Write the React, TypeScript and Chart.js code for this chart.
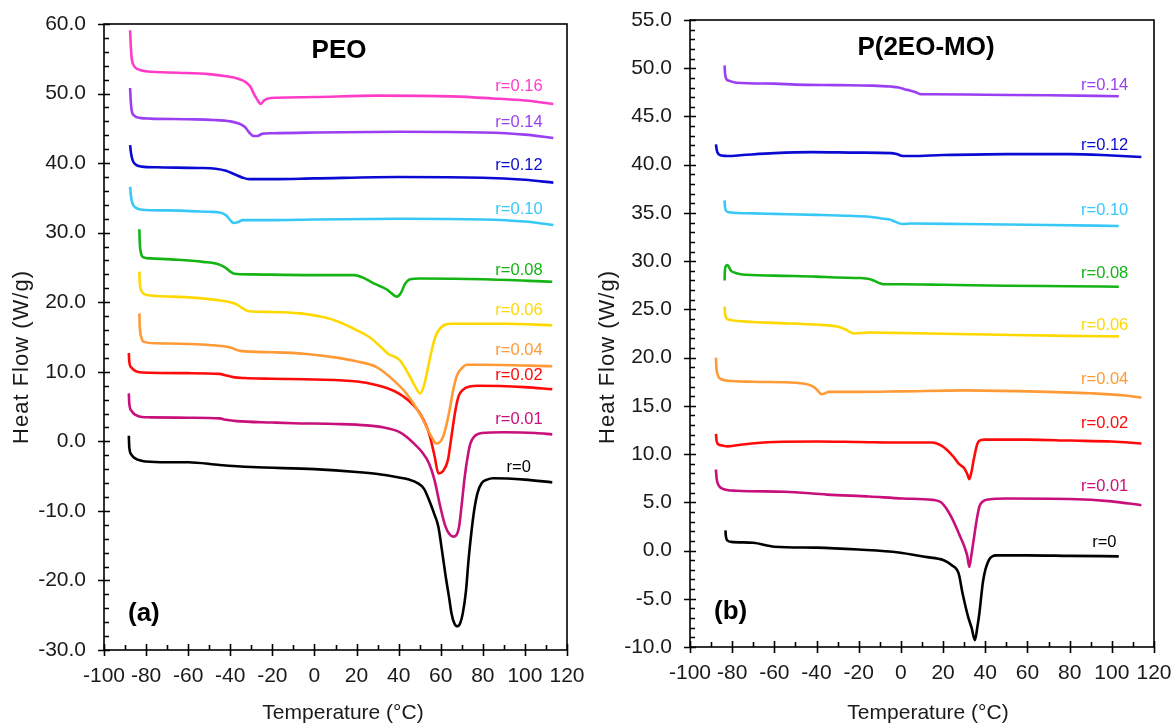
import React, { useEffect, useRef } from 'react';
import { Chart, registerables } from 'chart.js';

Chart.register(...registerables);

type P = [number, number];

// ---------------- Panel (a): PEO ----------------
const PEO_R016: P[] = [[-87.6, 59.1], [-87.3, 57.0], [-86.8, 55.0], [-85.8, 54.0], [-84, 53.5], [-80, 53.2], [-65, 53.0], [-50, 52.8], [-42, 52.5], [-36, 52.1], [-33, 51.7], [-30.5, 51.0], [-28.5, 49.8], [-26.5, 48.8], [-25.5, 48.5], [-24, 49.0], [-22, 49.3], [-18, 49.4], [0, 49.5], [30, 49.7], [65, 49.6], [85, 49.3], [100, 49.0], [113.5, 48.5]];
const PEO_R014: P[] = [[-87.6, 50.8], [-87.3, 49.0], [-86.8, 47.5], [-85.5, 46.8], [-83, 46.5], [-78, 46.4], [-60, 46.3], [-48, 46.2], [-40, 46.0], [-36, 45.7], [-33, 45.2], [-31, 44.4], [-29, 43.9], [-27, 43.9], [-25, 44.2], [-20, 44.3], [0, 44.4], [40, 44.5], [80, 44.4], [100, 44.1], [113.5, 43.6]];
const PEO_R012: P[] = [[-87.6, 42.6], [-87.2, 41.5], [-86.5, 40.5], [-85, 39.8], [-82, 39.5], [-75, 39.4], [-55, 39.3], [-47, 39.2], [-42, 38.9], [-38, 38.4], [-34, 37.9], [-31, 37.7], [-20, 37.7], [0, 37.8], [40, 38.0], [80, 37.9], [100, 37.6], [113.5, 37.2]];
const PEO_R010: P[] = [[-87.6, 36.6], [-87.2, 35.3], [-86.5, 34.2], [-85, 33.6], [-82, 33.3], [-70, 33.2], [-50, 33.0], [-45, 32.9], [-42, 32.5], [-40, 31.8], [-38.5, 31.4], [-36.5, 31.5], [-34, 31.8], [-20, 31.8], [0, 31.9], [40, 32.0], [80, 31.9], [100, 31.6], [113.5, 31.1]];
const PEO_R008: P[] = [[-83.2, 30.5], [-83, 28.5], [-82.5, 27.2], [-81.5, 26.5], [-78, 26.3], [-65, 26.1], [-53, 25.8], [-46, 25.5], [-42.5, 25.0], [-40, 24.4], [-38, 24.1], [-30, 24.0], [0, 23.9], [19, 23.9], [24, 23.4], [29, 22.6], [34, 21.9], [37, 21.2], [39, 20.8], [41, 21.3], [43, 22.6], [45.5, 23.3], [50, 23.4], [80, 23.3], [113, 22.95]];
const PEO_R006: P[] = [[-83.2, 24.4], [-83, 22.8], [-82.3, 21.7], [-81, 21.2], [-75, 20.9], [-60, 20.7], [-46, 20.3], [-40, 20.0], [-37, 19.7], [-34, 19.1], [-31, 18.7], [-20, 18.6], [-6.6, 18.4], [5, 17.8], [11.4, 17.2], [20, 16.0], [26, 15.0], [30, 14.0], [35, 12.6], [40.4, 11.7], [45, 9.5], [48, 7.8], [50.2, 6.9], [52.3, 8.3], [54.7, 11.7], [57.4, 15.0], [61, 16.6], [65, 16.9], [90, 16.9], [113, 16.7]];
const PEO_R004: P[] = [[-83.2, 18.4], [-83, 16.5], [-82.3, 15.0], [-81, 14.3], [-75, 14.1], [-60, 14.0], [-50, 13.85], [-40, 13.5], [-35.3, 13.0], [-20, 12.8], [-5, 12.6], [11.4, 12.0], [20, 11.5], [29.3, 10.7], [36, 9.2], [43.6, 6.9], [50.8, 3.55], [55, 1.0], [58, -0.3], [60, 0.0], [62, 1.5], [64.2, 4.5], [66, 7.5], [67.8, 9.55], [70, 10.5], [72.3, 11.0], [80, 11.0], [113, 10.8]];
const PEO_R002: P[] = [[-88.2, 12.7], [-88, 11.5], [-87, 10.6], [-85, 10.1], [-82, 9.9], [-60, 9.8], [-45, 9.7], [-42.4, 9.5], [-38, 9.2], [-33.5, 9.1], [-20, 9.0], [0, 8.9], [20.3, 8.6], [29.3, 8.1], [35, 7.6], [40, 6.9], [45, 5.8], [49, 4.5], [52, 3.0], [54.4, 1.2], [57, -2.0], [58.9, -4.6], [61, -4.3], [63.4, -2.7], [65, 0.5], [67, 4.5], [68.5, 6.5], [70.5, 7.4], [74, 7.9], [77.7, 8.0], [100, 7.8], [113, 7.5]];
const PEO_R001: P[] = [[-88.2, 6.9], [-88, 5.5], [-87, 4.4], [-85, 3.8], [-82, 3.5], [-78, 3.45], [-60, 3.4], [-45, 3.3], [-42, 3.1], [-37, 2.9], [-20, 2.7], [-10, 2.6], [10, 2.5], [25, 2.3], [33, 2.0], [40, 1.4], [44, 0.6], [47.2, -0.3], [51, -1.5], [54.4, -3.15], [57, -5.5], [59.8, -9.4], [62, -12.0], [64, -13.3], [66, -13.7], [68.7, -12.3], [70, -9.0], [71.4, -5.1], [72.8, -2.2], [74.1, -0.3], [76, 0.7], [79.5, 1.2], [90, 1.3], [105, 1.2], [113, 1.0]];
const PEO_R000: P[] = [[-88.2, 0.8], [-88, -0.8], [-87, -1.9], [-85, -2.5], [-80, -2.9], [-70, -3.0], [-60, -3.0], [-45, -3.4], [-30, -3.7], [0, -4.0], [20, -4.4], [30, -4.7], [38.2, -5.1], [45, -5.5], [49, -6.0], [52, -6.8], [54.4, -8.4], [57, -10.5], [58.9, -12.3], [60.5, -15.5], [62.4, -19.5], [64, -22.5], [65.1, -24.7], [66.5, -26.2], [67.8, -26.6], [69.2, -26.2], [70.5, -24.7], [72, -21.5], [73.2, -17.1], [74.6, -13.0], [75.9, -9.9], [77.5, -7.4], [79.5, -6.0], [82, -5.5], [84.9, -5.3], [100, -5.5], [113, -5.9]];

const PEO_NAMES = ['r=0.16', 'r=0.14', 'r=0.12', 'r=0.10', 'r=0.08', 'r=0.06', 'r=0.04', 'r=0.02', 'r=0.01', 'r=0'];
const PEO_DATA = [PEO_R016, PEO_R014, PEO_R012, PEO_R010, PEO_R008, PEO_R006, PEO_R004, PEO_R002, PEO_R001, PEO_R000];
// label anchor (right edge x, centre y) in data units
const PEO_LABEL_X = [108.4, 108.4, 108.4, 108.4, 108.4, 108.4, 108.4, 108.4, 108.4, 102.8];
const PEO_LABEL_Y = [51.0, 45.9, 39.6, 33.3, 24.6, 18.8, 13.1, 9.45, 3.2, -3.8];

// ---------------- Panel (b): P(2EO-MO) ----------------
const PMO_R014: P[] = [[-83.6, 50.3], [-83.4, 49.5], [-82.8, 48.9], [-81.4, 48.7], [-78, 48.5], [-60, 48.4], [-50, 48.3], [-30, 48.25], [-13.6, 48.2], [-5, 48.1], [-1.1, 48.0], [2, 47.8], [4.2, 47.7], [7, 47.5], [9.6, 47.3], [15, 47.3], [40, 47.25], [70, 47.2], [103.3, 47.1]];
const PMO_R012: P[] = [[-87.7, 42.1], [-87.3, 41.5], [-86.5, 41.1], [-85, 40.95], [-82, 40.9], [-75, 41.0], [-60, 41.2], [-42.2, 41.3], [-20, 41.25], [-4.7, 41.2], [-2, 41.1], [1, 40.9], [5, 40.9], [20, 41.0], [50, 41.1], [80, 41.1], [100, 40.95], [114, 40.8]];
const PMO_R010: P[] = [[-83.6, 36.3], [-83.4, 35.6], [-82.8, 35.2], [-81, 35.05], [-70, 34.95], [-60, 34.9], [-40, 34.8], [-24.4, 34.7], [-15, 34.6], [-8.3, 34.4], [-5, 34.3], [-2.9, 34.1], [0.7, 33.85], [5, 33.9], [30, 33.85], [70, 33.75], [103.3, 33.65]];
const PMO_R008: P[] = [[-83.6, 28.0], [-83.5, 28.8], [-83.2, 29.4], [-82.3, 29.6], [-80.5, 29.0], [-78, 28.75], [-76, 28.65], [-60, 28.5], [-40, 28.4], [-30, 28.3], [-19, 28.25], [-15, 28.15], [-13.6, 28.05], [-10.5, 27.75], [-8.3, 27.6], [0, 27.6], [20, 27.55], [50, 27.45], [80, 27.4], [103.3, 27.35]];
const PMO_R006: P[] = [[-83.6, 25.3], [-83.4, 24.6], [-82.8, 24.1], [-81, 23.9], [-70, 23.7], [-60, 23.6], [-38.6, 23.4], [-29.7, 23.2], [-26.2, 22.9], [-23.5, 22.6], [-22.2, 22.5], [-15, 22.6], [0, 22.55], [40, 22.4], [80, 22.25], [103.3, 22.2]];
const PMO_R004: P[] = [[-87.7, 20.0], [-87.5, 19.0], [-86.8, 18.2], [-86, 17.85], [-82, 17.6], [-70, 17.5], [-50, 17.4], [-45.8, 17.3], [-42.5, 17.1], [-40.4, 16.8], [-38.5, 16.35], [-37.7, 16.2], [-36, 16.3], [-34.2, 16.45], [-20, 16.45], [0, 16.5], [30, 16.6], [60, 16.5], [90, 16.3], [105, 16.1], [114, 15.85]];
const PMO_R002: P[] = [[-87.7, 12.1], [-87.4, 11.4], [-86.5, 11.0], [-85, 10.9], [-82, 10.8], [-75, 11.0], [-60, 11.25], [-40, 11.3], [-20, 11.25], [0, 11.2], [14.9, 11.2], [19, 10.9], [22, 10.4], [25, 9.7], [27.4, 9.0], [30.1, 8.5], [31.5, 7.9], [32.4, 7.4], [33.5, 8.2], [34.5, 9.4], [36.3, 11.1], [38, 11.45], [39.9, 11.5], [60, 11.5], [80, 11.4], [100, 11.3], [114, 11.1]];
const PMO_R001: P[] = [[-87.7, 8.4], [-87.4, 7.5], [-86.5, 6.8], [-85, 6.45], [-78, 6.2], [-55, 6.1], [-35, 5.8], [-15, 5.6], [0.7, 5.4], [15, 5.25], [19, 5.0], [22, 4.2], [25, 3.0], [27.4, 1.8], [30.1, 0.4], [31.5, -0.6], [32.4, -1.7], [33.4, -0.5], [34.5, 1.1], [35.8, 3.0], [37.2, 4.55], [39, 5.1], [41.7, 5.3], [50, 5.4], [80, 5.35], [100, 5.1], [114, 4.7]];
const PMO_R000: P[] = [[-83.2, 2.1], [-83, 1.5], [-82, 1.0], [-80.5, 0.9], [-70, 0.8], [-60, 0.4], [-40, 0.3], [-20, 0.1], [-1.1, -0.2], [11.3, -0.65], [20.3, -1.0], [24, -1.5], [27.4, -2.4], [29.2, -4.4], [31.9, -6.9], [33.5, -8.0], [35.1, -9.3], [36.2, -8.0], [37.2, -6.5], [39, -3.1], [41.7, -1.0], [45.3, -0.5], [60, -0.5], [80, -0.55], [103.3, -0.6]];

const PMO_NAMES = ['r=0.14', 'r=0.12', 'r=0.10', 'r=0.08', 'r=0.06', 'r=0.04', 'r=0.02', 'r=0.01', 'r=0'];
const PMO_DATA = [PMO_R014, PMO_R012, PMO_R010, PMO_R008, PMO_R006, PMO_R004, PMO_R002, PMO_R001, PMO_R000];
const PMO_LABEL_X = [107.8, 107.8, 107.8, 107.8, 107.8, 107.8, 107.8, 107.8, 102.2];
const PMO_LABEL_Y = [48.2, 42.0, 35.3, 28.7, 23.3, 17.75, 13.15, 6.6, 0.8];

// axis tick settings
const PEO_Y = { min: -30, max: 60, step: 10, minor: 2 };
const PMO_Y = { min: -10, max: 55, step: 5, minor: 1 };
const X_AXIS = { min: -100, max: 120, step: 20, minor: 10 };

// ---------------- styles ----------------
const COLOR: Record<string, string> = {
  'r=0.16': '#ff3cc8',
  'r=0.14': '#9b3ff2',
  'r=0.12': '#0a0ad2',
  'r=0.10': '#38c8f8',
  'r=0.08': '#14b414',
  'r=0.06': '#ffd800',
  'r=0.04': '#ff9a36',
  'r=0.02': '#ff0a0a',
  'r=0.01': '#c8107c',
  'r=0': '#000000',
};
const FONT = "'Liberation Sans', Arial, sans-serif";

const decoPlugin = {
  id: 'deco',
  afterDraw(chart: any, _args: any, o: any) {
    const { ctx, chartArea: ca } = chart;
    const xs = chart.scales.x;
    const ys = chart.scales.y;
    ctx.save();
    ctx.strokeStyle = '#000';
    ctx.lineWidth = 1.6;
    ctx.strokeRect(ca.left, ca.top, ca.right - ca.left, ca.bottom - ca.top);
    ctx.beginPath();
    const xa = o.xAxis;
    for (let v = xa.min; v <= xa.max + 1e-9; v += xa.minor) {
      const px = Math.round(xs.getPixelForValue(v)) + 0.5;
      const major = Math.abs(((v - xa.min) / xa.step) - Math.round((v - xa.min) / xa.step)) < 1e-6;
      if (major) { ctx.moveTo(px, ca.bottom + 6); ctx.lineTo(px, ca.bottom - 6); }
      else { ctx.moveTo(px, ca.bottom); ctx.lineTo(px, ca.bottom - 5); }
    }
    const ya = o.yAxis;
    for (let v = ya.min; v <= ya.max + 1e-9; v += ya.minor) {
      const py = Math.round(ys.getPixelForValue(v)) + 0.5;
      const major = Math.abs(((v - ya.min) / ya.step) - Math.round((v - ya.min) / ya.step)) < 1e-6;
      if (major) { ctx.moveTo(ca.left - 6, py); ctx.lineTo(ca.left + 6, py); }
      else { ctx.moveTo(ca.left, py); ctx.lineTo(ca.left + 5, py); }
    }
    ctx.stroke();

    // series labels
    ctx.font = `16.5px ${FONT}`;
    ctx.textAlign = 'right';
    ctx.textBaseline = 'middle';
    o.names.forEach((n: string, i: number) => {
      ctx.fillStyle = COLOR[n];
      ctx.fillText(n, xs.getPixelForValue(o.labelX[i]), ys.getPixelForValue(o.labelY[i]));
    });

    // panel title & letter
    ctx.fillStyle = '#000';
    ctx.textAlign = 'center';
    ctx.font = `bold 26px ${FONT}`;
    ctx.fillText(o.title, o.titlePos[0], o.titlePos[1]);
    ctx.textAlign = 'left';
    ctx.font = `bold 26px ${FONT}`;
    ctx.fillText(o.letter, o.letterPos[0], o.letterPos[1]);

    // axis titles
    ctx.fillStyle = '#1a1a1a';
    ctx.font = `21px ${FONT}`;
    ctx.textAlign = 'center';
    ctx.fillText('Temperature (°C)', o.xTitlePos[0], o.xTitlePos[1]);
    ctx.save();
    ctx.translate(o.yTitlePos[0], o.yTitlePos[1]);
    ctx.rotate(-Math.PI / 2);
    ctx.font = `22px ${FONT}`;
    try { (ctx as any).letterSpacing = '1px'; } catch (e) { /* ignore */ }
    ctx.fillText('Heat Flow (W/g)', 0, 0);
    ctx.restore();
    ctx.restore();
  },
};

function makeConfig(p: any) {
  return {
    type: 'line',
    data: {
      datasets: p.data.map((d: P[], i: number) => ({
        label: p.names[i],
        data: d.map(([x, y]) => ({ x, y })),
        borderColor: COLOR[p.names[i]],
        borderWidth: 2.6,
        pointRadius: 0,
        fill: false,
        cubicInterpolationMode: 'monotone',
      })),
    },
    options: {
      responsive: false,
      animation: false,
      devicePixelRatio: 1,
      layout: { padding: { left: 0, right: p.padRight, top: p.padTop, bottom: 0 } },
      plugins: { legend: { display: false }, tooltip: { enabled: false }, deco: p.deco },
      scales: {
        x: {
          type: 'linear',
          min: X_AXIS.min,
          max: X_AXIS.max,
          border: { display: false },
          grid: { display: false, drawTicks: false },
          afterFit: (s: any) => { s.height = p.xHeight; s.paddingLeft = 0; s.paddingRight = 0; },
          ticks: {
            stepSize: X_AXIS.step,
            autoSkip: false,
            maxRotation: 0,
            minRotation: 0,
            padding: 14,
            color: '#1a1a1a',
            font: { family: FONT, size: 21 },
            callback: (v: number) => String(Math.round(v)),
          },
        },
        y: {
          type: 'linear',
          min: p.yAxis.min,
          max: p.yAxis.max,
          border: { display: false },
          grid: { display: false, drawTicks: false },
          afterFit: (s: any) => { s.width = p.yWidth; s.paddingTop = 0; s.paddingBottom = 0; },
          ticks: {
            stepSize: p.yAxis.step,
            padding: 18,
            color: '#1a1a1a',
            font: { family: FONT, size: 21 },
            callback: (v: number) => Number(v).toFixed(1),
          },
        },
      },
    },
    plugins: [decoPlugin],
  };
}

function Panel(props: { cfg: any; left: number }) {
  const ref = useRef<HTMLCanvasElement | null>(null);
  useEffect(() => {
    if (!ref.current) return;
    const chart = new Chart(ref.current, makeConfig(props.cfg) as any);
    return () => chart.destroy();
  }, []);
  return (
    <canvas
      ref={ref}
      width={588}
      height={727}
      style={{ position: 'absolute', left: props.left, top: 0, width: 588, height: 727, display: 'block' }}
    />
  );
}

const PANEL_A = {
  data: PEO_DATA,
  names: PEO_NAMES,
  yAxis: PEO_Y,
  yWidth: 104,
  xHeight: 77,
  padRight: 21,
  padTop: 24,
  deco: {
    names: PEO_NAMES, labelX: PEO_LABEL_X, labelY: PEO_LABEL_Y,
    xAxis: X_AXIS, yAxis: PEO_Y,
    title: 'PEO', titlePos: [339, 51],
    letter: '(a)', letterPos: [128, 614],
    xTitlePos: [343, 713], yTitlePos: [22, 357],
  },
};

const PANEL_B = {
  data: PMO_DATA,
  names: PMO_NAMES,
  yAxis: PMO_Y,
  yWidth: 102,
  xHeight: 80,
  padRight: 22,
  padTop: 20,
  deco: {
    names: PMO_NAMES, labelX: PMO_LABEL_X, labelY: PMO_LABEL_Y,
    xAxis: X_AXIS, yAxis: PMO_Y,
    title: 'P(2EO-MO)', titlePos: [338, 48],
    letter: '(b)', letterPos: [126, 612],
    xTitlePos: [340, 713], yTitlePos: [20, 357],
  },
};

export default function App() {
  return (
    <div style={{ position: 'absolute', left: 0, top: 0, width: 1176, height: 727, background: '#fff' }}>
      <Panel cfg={PANEL_A} left={0} />
      <Panel cfg={PANEL_B} left={588} />
    </div>
  );
}
